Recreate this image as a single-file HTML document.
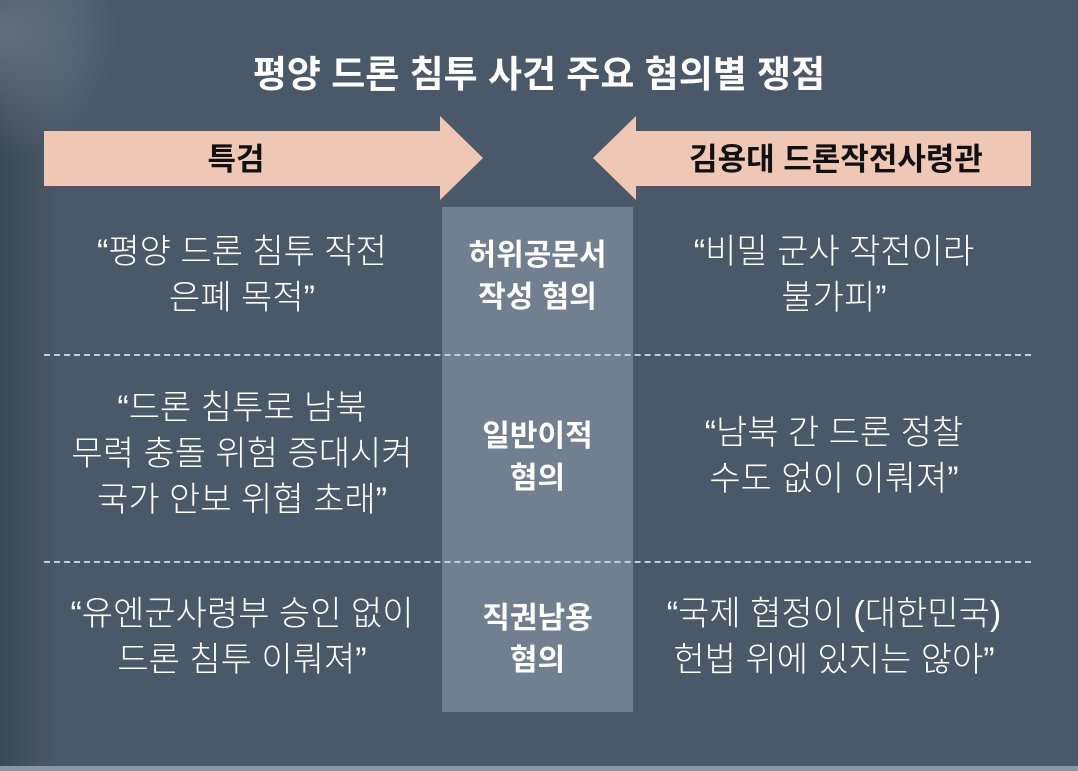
<!DOCTYPE html>
<html><head><meta charset="utf-8"><style>
html,body{margin:0;padding:0}
body{width:1078px;height:771px;position:relative;overflow:hidden;background:#4a5969;font-family:"Liberation Sans","Noto Sans CJK KR",sans-serif;color:#fff}
.edge{position:absolute;left:0;top:0;width:60px;height:771px;background:linear-gradient(90deg,#3a4756 0%,#46535f 60%,rgba(74,89,105,0) 100%)}
.tl{position:absolute;left:0;top:0;width:120px;height:160px;background:radial-gradient(ellipse at 0 20%,rgba(140,150,160,0.5),rgba(74,89,105,0) 70%)}
.title{position:absolute;left:0;width:1078px;top:52px;text-align:center;font-size:37px;line-height:46px;font-weight:bold}
.col{position:absolute;left:442px;top:207px;width:191px;height:505px;background:#708091}
.dash{position:absolute;left:44px;width:987px;border-top:2px dashed #c8cdd3}
.t{position:absolute;text-align:center;font-size:34px;line-height:46px;font-weight:300;white-space:nowrap}
.c{position:absolute;left:442px;width:191px;text-align:center;font-size:30px;font-weight:bold;line-height:42px}
.bottom{position:absolute;left:0;top:766px;width:1078px;height:5px;background:#8a96a2}
</style></head><body>
<div class="edge"></div><div class="tl"></div>
<div class="title">평양 드론 침투 사건 주요 혐의별 쟁점</div>
<svg style="position:absolute;left:0;top:0" width="1078" height="771">
<polygon points="44,131 440,131 440,116 483,158 440,200 440,186 44,186" fill="#efc8b5"/>
<polygon points="1031,131 636,131 636,116 593,158 636,200 636,186 1031,186" fill="#efc8b5"/>
<text x="236" y="170" font-size="31" font-weight="bold" fill="#111" text-anchor="middle" font-family="Liberation Sans, Noto Sans CJK KR, sans-serif">특검</text>
<text x="836" y="170" font-size="31" font-weight="bold" fill="#111" text-anchor="middle" font-family="Liberation Sans, Noto Sans CJK KR, sans-serif">김용대 드론작전사령관</text>
</svg>
<div class="col"></div>
<div class="dash" style="top:354px"></div>
<div class="dash" style="top:561px"></div>
<div class="t" style="left:34px;width:416px;top:229px">“평양 드론 침투 작전<br>은폐 목적”</div>
<div class="c" style="top:235px">허위공문서<br>작성 혐의</div>
<div class="t" style="left:626px;width:416px;top:229px">“비밀 군사 작전이라<br>불가피”</div>
<div class="t" style="left:24px;width:436px;top:385px">“드론 침투로 남북<br>무력 충돌 위험 증대시켜<br>국가 안보 위협 초래”</div>
<div class="c" style="top:416px">일반이적<br>혐의</div>
<div class="t" style="left:626px;width:416px;top:410px">“남북 간 드론 정찰<br>수도 없이 이뤄져”</div>
<div class="t" style="left:24px;width:436px;top:591px">“유엔군사령부 승인 없이<br>드론 침투 이뤄져”</div>
<div class="c" style="top:598px">직권남용<br>혐의</div>
<div class="t" style="left:616px;width:436px;top:591px">“국제 협정이 (대한민국)<br>헌법 위에 있지는 않아”</div>
<div class="bottom"></div>
</body></html>
